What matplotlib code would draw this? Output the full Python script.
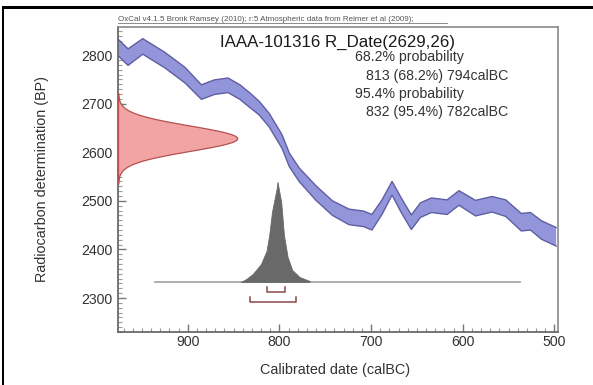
import matplotlib
matplotlib.use("Agg")
import matplotlib.pyplot as plt
import numpy as np
from matplotlib.ticker import MultipleLocator
from matplotlib.lines import Line2D
from matplotlib.patches import Rectangle

plt.rcParams['font.family'] = ['Liberation Sans', 'DejaVu Sans']

# Calibration curve (IntCal09 atmospheric), calBC vs BP, with 1-sigma half-width
curve_cal = [976, 965, 949, 925, 903, 885, 871, 856, 843, 832, 822, 811, 797, 789,
             778, 760, 742, 724, 708, 699, 688, 677, 667, 656, 646, 634, 617, 604,
             586, 568, 553, 536, 526, 514, 498]
curve_bp = [2816, 2796, 2818, 2790, 2759, 2724, 2734, 2738, 2724, 2707, 2691, 2666,
            2622, 2584, 2553, 2516, 2485, 2467, 2463, 2456, 2487, 2526, 2491, 2456,
            2481, 2491, 2487, 2506, 2485, 2493, 2485, 2456, 2458, 2440, 2426]
curve_err = [17, 17, 16, 16, 16, 15, 15, 15, 15, 15, 14, 14, 14, 14,
             14, 15, 15, 16, 16, 16, 15, 14, 15, 15, 15, 15, 15, 15,
             16, 16, 17, 18, 18, 19, 19]

# Radiocarbon measurement
r_name = "IAAA-101316"
r_mean = 2629
r_sigma = 26

# Calibrated probability distribution (relative)
post_cal = [842, 836, 829, 820, 814, 811, 808, 803, 802, 798, 795, 791, 786, 778, 767]
post_prob = [0.0, 0.03, 0.08, 0.18, 0.31, 0.47, 0.70, 0.93, 1.0, 0.80, 0.47, 0.25, 0.12, 0.05, 0.01]

# Highest probability density ranges
range_68 = (813, 794)
range_95 = (832, 782)

header = "OxCal v4.1.5 Bronk Ramsey (2010); r:5 Atmospheric data from Reimer et al (2009);"

XMAX, XMIN = 976, 496
YMIN, YMAX = 2230, 2858
BASE = 2333          # baseline of the calibrated distribution
POST_H = 206         # height of the distribution peak in BP units
GAUSS_W = 130        # width of the measurement curve in calendar years

W, H = 593, 385
fig = plt.figure(figsize=(W / 100, H / 100), dpi=100)
fig.patch.set_facecolor('white')
ax = fig.add_axes([118 / W, 1 - 332 / H, (558 - 118) / W, (332 - 27) / H])
ax.set_xlim(XMAX, XMIN)
ax.set_ylim(YMIN, YMAX)

# calibration curve band
cc = np.array(curve_bp, float)
ce = np.array(curve_err, float)
ax.fill_between(curve_cal, cc - ce, cc + ce, facecolor='#9395da', edgecolor='none', zorder=2)
ax.plot(curve_cal, cc + ce, color='#5f5ea2', lw=1.0, zorder=3)
ax.plot(curve_cal, cc - ce, color='#5f5ea2', lw=1.0, zorder=3)

# radiocarbon measurement distribution on the y axis
yy = np.linspace(r_mean - 3.6 * r_sigma, r_mean + 3.6 * r_sigma, 200)
dens = np.exp(-0.5 * ((yy - r_mean) / r_sigma) ** 2)
ax.fill_betweenx(yy, XMAX, XMAX - dens * GAUSS_W, facecolor='#f2a3a3',
                 edgecolor='#b5504f', lw=0.9, zorder=4)

# calibrated distribution
ax.plot([936, 537], [BASE, BASE], color='#a8a8a8', lw=1.3, zorder=4)
ax.fill_between(post_cal, BASE, BASE + np.array(post_prob) * POST_H,
                facecolor='#696969', edgecolor='#696969', lw=0.6, zorder=5)

# range brackets
def bracket(rng, y):
    a, b = rng
    ax.plot([a, a, b, b], [y + 10, y, y, y + 10], color='#8a4646', lw=1.1, zorder=5)

bracket(range_68, 2313)
bracket(range_95, 2292)

# axes styling
ax.xaxis.set_major_locator(MultipleLocator(100))
ax.xaxis.set_minor_locator(MultipleLocator(10))
ax.yaxis.set_major_locator(MultipleLocator(100))
ax.yaxis.set_minor_locator(MultipleLocator(10))
ax.tick_params(which='major', direction='in', length=6, width=1, color='#777777',
               labelsize=10.2, labelcolor='#333333')
ax.tick_params(which='minor', direction='in', length=3, width=0.8, color='#999999')
ax.tick_params(axis='x', pad=2)
ax.tick_params(axis='y', pad=4)
for side in ('left', 'bottom'):
    ax.spines[side].set_color('#6a6a6a')
    ax.spines[side].set_linewidth(1.3)
for side in ('top', 'right'):
    ax.spines[side].set_color('#8a8a8a')
    ax.spines[side].set_linewidth(1.2)

# labels
fig.text(335 / W, 1 - 370 / H, "Calibrated date (calBC)", ha='center', va='center',
         fontsize=10.4, color='#333333')
fig.text(42 / W, 1 - 179 / H, "Radiocarbon determination (BP)", ha='center', va='center',
         rotation=90, fontsize=10.4, color='#333333')

fig.text(118 / W, 1 - 19.5 / H, header, ha='left', va='center', fontsize=5.8, color='#555555')
fig.add_artist(Line2D([118 / W, 447 / W], [1 - 23 / H, 1 - 23 / H], color='#777777', lw=0.6))

fig.text(220 / W, 1 - 42 / H, f"{r_name} R_Date({r_mean},{r_sigma})", ha='left', va='center',
         fontsize=12.2, color='#1a1a1a')
fig.text(355 / W, 1 - 57 / H, "68.2% probability", ha='left', va='center',
         fontsize=10.2, color='#333333')
fig.text(366 / W, 1 - 76 / H, f"{range_68[0]} (68.2%) {range_68[1]}calBC", ha='left',
         va='center', fontsize=10.2, color='#333333')
fig.text(355 / W, 1 - 94 / H, "95.4% probability", ha='left', va='center',
         fontsize=10.2, color='#333333')
fig.text(366 / W, 1 - 112 / H, f"{range_95[0]} (95.4%) {range_95[1]}calBC", ha='left',
         va='center', fontsize=10.2, color='#333333')

# black frame on top and left
fig.add_artist(Rectangle((1.5 / W, 0), 2.5 / W, 1 - 6 / H, transform=fig.transFigure,
                         facecolor='black', edgecolor='none'))
fig.add_artist(Rectangle((1.5 / W, 1 - 9 / H), 1, 3 / H, transform=fig.transFigure,
                         facecolor='black', edgecolor='none'))

fig.savefig("out.png", dpi=100, facecolor='white')
